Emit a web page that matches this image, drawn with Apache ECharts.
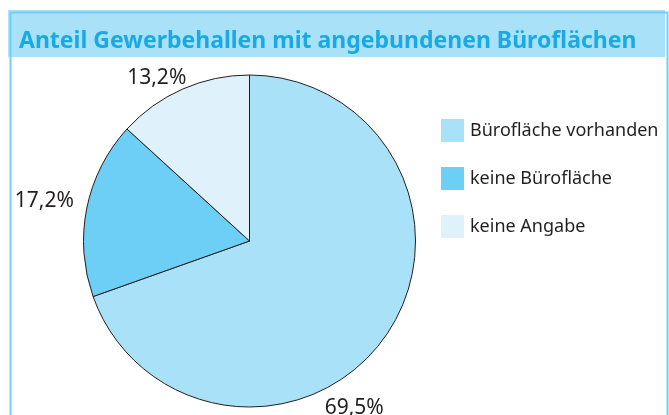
<!DOCTYPE html>
<html>
<head>
<meta charset="utf-8">
<script src="https://cdn.jsdelivr.net/npm/echarts@6/dist/echarts.min.js"></script>
<style>
html,body{margin:0;padding:0;background:#fff;}
#chart{width:669px;height:415px;}
</style>
</head>
<body>
<div id="chart"></div>
<script>
const titleText = 'Anteil Gewerbehallen mit angebundenen Büroflächen';
const categories = ['Bürofläche vorhanden', 'keine Bürofläche', 'keine Angabe'];
const values = [69.5, 17.2, 13.2];
const colors = ['#a9e1f9', '#6dcff5', '#dff1fb'];

const chart = echarts.init(document.getElementById('chart'));
const fontFam = '"Noto Sans", "Open Sans", sans-serif';
const labelShift = [[-72, 67], [0, -5], [12, -4]];
chart.setOption({
  animation: false,
  backgroundColor: '#ffffff',
  graphic: [
    { type: 'rect', left: 8, top: 10, shape: { width: 657, height: 47 }, style: { fill: '#a9e1f9' }, z: 0 },
    { type: 'rect', left: 8, top: 10, shape: { width: 657, height: 420 }, style: { fill: 'none', stroke: '#6fcff5', lineWidth: 2 }, z: 1 }
  ],
  title: {
    text: titleText,
    left: 19, top: 30,
    padding: 0,
    textStyle: { fontFamily: fontFam, fontWeight: 'bold', fontSize: 23, color: '#1aa9e3' }
  },
  legend: {
    orient: 'vertical',
    left: 441, top: 119,
    padding: 0,
    itemWidth: 23, itemHeight: 23,
    itemGap: 25,
    icon: 'rect',
    itemStyle: { borderWidth: 0 },
    data: categories,
    textStyle: { fontFamily: fontFam, fontSize: 18, color: '#231f20', padding: [2, 0, 0, 1] }
  },
  series: [{
    type: 'pie',
    center: [249.5, 241],
    radius: 166,
    startAngle: 90,
    clockwise: true,
    color: colors,
    itemStyle: { borderColor: '#231f20', borderWidth: 1 },
    emphasis: { disabled: true },
    label: {
      show: true,
      position: 'outside',
      fontFamily: fontFam,
      fontSize: 21,
      color: '#231f20',
      formatter: p => p.value.toFixed(1).replace('.', ',') + '%'
    },
    labelLine: { show: false, length: 8, length2: 0 },
    labelLayout: p => ({ dx: labelShift[p.dataIndex][0], dy: labelShift[p.dataIndex][1] }),
    data: categories.map((c, i) => ({ name: c, value: values[i] }))
  }]
});
</script>
</body>
</html>
